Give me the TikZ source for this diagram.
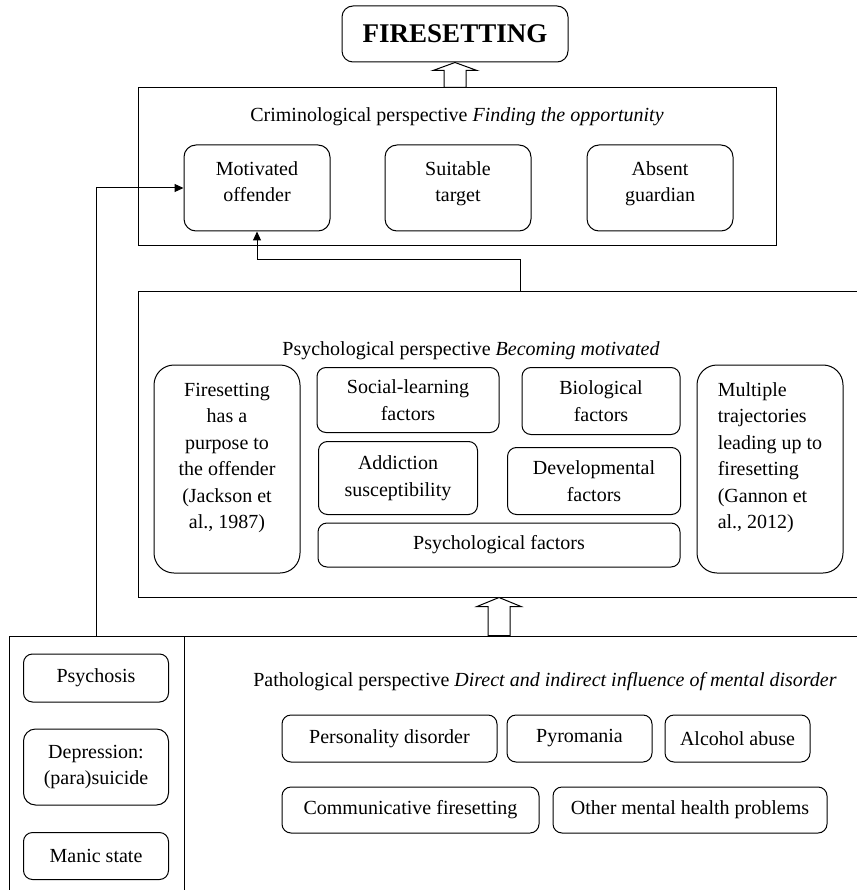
\documentclass[tikz,border=0pt]{standalone}
\usepackage{fontspec}
\setmainfont{Liberation Serif}
\usetikzlibrary{arrows.meta,calc}
\tikzset{every path/.style={line width=1pt},
  box/.style={draw, rounded corners=9pt, align=center, inner sep=0pt},
  crimbox/.style={box, rounded corners=12pt, minimum width=146pt, minimum height=86pt, text depth=13pt},
  frame/.style={draw, inner sep=0pt},
  title/.style={inner sep=0pt},
  conn/.style={-{Triangle[length=9pt,width=8pt]}},
  hollow/.style={fill=white}}

\begin{document}
\begin{tikzpicture}[x=1pt,y=-1pt,font=\fontsize{20}{26.5}\selectfont]
  \useasboundingbox (0,0) rectangle (856,890);
  % the three perspectives
  \node[frame, minimum width=638pt, minimum height=158pt] (crim)  at (457,167) {};
  \node[frame, minimum width=764pt, minimum height=306pt] (psych) at (520,444) {};
  \node[frame, minimum width=980pt, minimum height=264pt] (patho) at (499,768) {};
  \draw (184,636) -- (184,900);

  \node[box, rounded corners=11pt, minimum width=226pt, minimum height=56pt,
        font=\fontsize{27}{30}\selectfont\bfseries] (fire) at (455,34) {FIRESETTING};

  % criminological
  \node[title] (crimtitle) at (457,117) {Criminological perspective \textit{Finding the opportunity}};
  \node[crimbox] (motiv)  at (257,188) {Motivated\\offender};
  \node[crimbox] (suit)   at (458,188) {Suitable\\target};
  \node[crimbox] (absent) at (660,188) {Absent\\guardian};

  % psychological
  \node[title] (psychtitle) at (471,351) {Psychological perspective \textit{Becoming motivated}};
  \node[box, rounded corners=20pt, minimum width=146pt, minimum height=208pt] (purpose) at (227,469)
    {Firesetting\\has a\\purpose to\\the offender\\(Jackson et\\al., 1987)\\\mbox{}};
  \node[box, minimum width=182pt, minimum height=65pt] (social) at (408,400) {Social-learning\\factors};
  \node[box, minimum width=158pt, minimum height=67pt] (bio)    at (601,401) {Biological\\factors};
  \node[box, minimum width=159pt, minimum height=73pt] (addict) at (398,478) {Addiction\\susceptibility};
  \node[box, minimum width=173pt, minimum height=67pt] (devel)  at (594,481) {Developmental\\factors};
  \node[box, minimum width=362pt, minimum height=44pt] (psyfac) at (499,545) {Psychological factors};
  \node[box, rounded corners=20pt, align=left, minimum width=146pt, minimum height=208pt] (multi) at (770,469)
    {Multiple\\trajectories\\leading up to\\firesetting\\(Gannon et\\al., 2012)\\\mbox{}};

  % pathological
  \node[title] (pathtitle) at (545,682) {Pathological perspective \textit{Direct and indirect influence of mental disorder}};
  \node[box, minimum width=145pt, minimum height=48pt] (psychosis) at (96,678) {Psychosis};
  \node[box, rounded corners=12pt, minimum width=145pt, minimum height=76pt] (depress) at (96,767) {Depression:\\(para)suicide};
  \node[box, minimum width=145pt, minimum height=47pt] (manic) at (96,856) {Manic state};
  \node[box, minimum width=215pt, minimum height=47pt] (person)  at (389.5,738.5) {Personality disorder};
  \node[box, minimum width=145pt, minimum height=47pt] (pyro)    at (579.5,738.5) {Pyromania};
  \node[box, minimum width=145pt, minimum height=47pt] (alcohol) at (737.5,738.5) {Alcohol abuse};
  \node[box, minimum width=257pt, minimum height=46pt] (commun)  at (410.5,810) {Communicative firesetting};
  \node[box, minimum width=274pt, minimum height=46pt] (other)   at (690,810) {Other mental health problems};

  % connectors
  \draw[hollow] (fire.south) -- ++(22,8) -- ++(-11,0) -- ($(fire.south |- crim.north)+(11,0)$)
    -- ++(-22,0) -- ($(fire.south)+(-11,8)$) -- ++(-11,0) -- cycle;
  \draw[hollow] (patho.north |- psych.south) -- ++(22,9) -- ++(-11,0) -- ($(patho.north)+(11,0)$)
    -- ++(-22,0) -- ($(patho.north |- psych.south)+(-11,9)$) -- ++(-11,0) -- cycle;
  \draw[conn] (psych.north) -- ++(0,-31) -| (motiv.south);
  \draw[conn] (psychosis.north |- patho.north) |- (motiv.west);
\end{tikzpicture}
\end{document}
